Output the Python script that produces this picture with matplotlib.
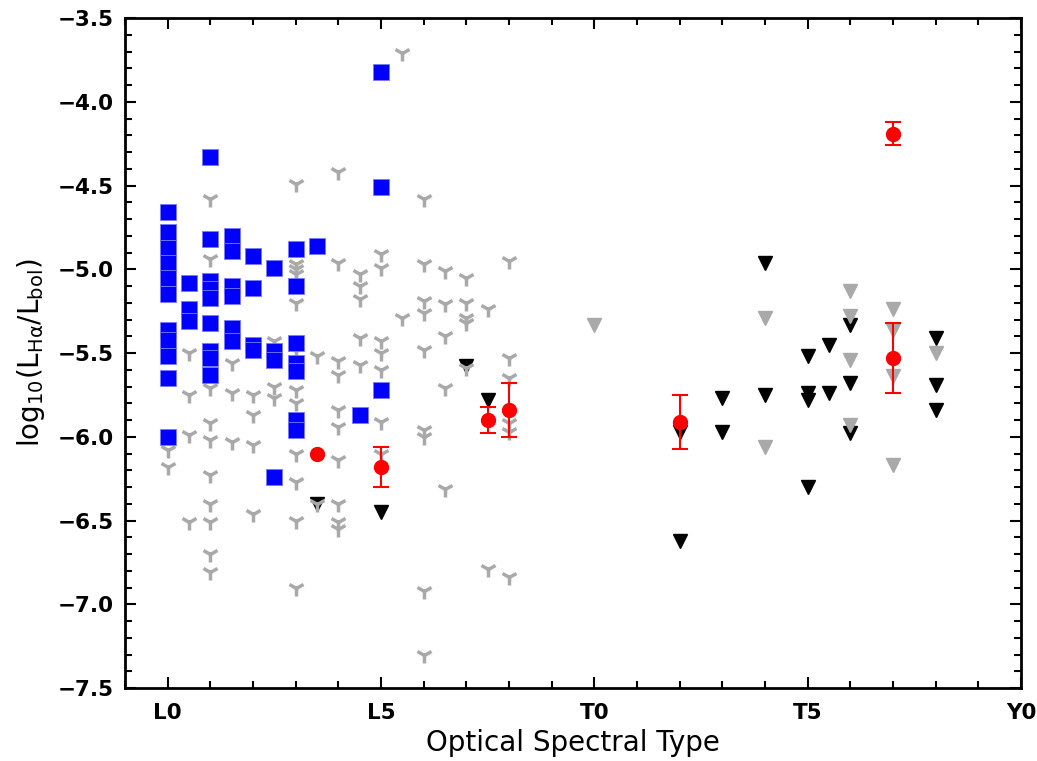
import matplotlib
matplotlib.use('Agg')
import matplotlib.pyplot as plt
from matplotlib.ticker import MultipleLocator

# spectral type as number: L0=0, L5=5, T0=10, T5=15, Y0=20

# grey upper limits (Y shaped markers)
ylim_spt = ([0] * 2 + [0.5] * 4 + [1] * 10 + [1.5] * 3 + [2] * 4 + [2.5] * 4
            + [3] * 12 + [3.5] * 2 + [4] * 10 + [4.5] * 5 + [5] * 7
            + [5.5] * 2 + [6] * 9 + [6.5] * 5 + [7] * 5 + [7.5] * 2 + [8] * 6)
ylim_val = [-6.08, -6.18,
            -5.50, -5.75, -5.99, -6.51,
            -4.58, -4.94, -5.71, -5.92, -6.02, -6.23, -6.40, -6.51, -6.70, -6.81,
            -5.56, -5.74, -6.03,
            -5.75, -5.87, -6.05, -6.46,
            -5.43, -5.70, -5.77, -6.23,
            -4.49, -4.97, -5.00, -5.03, -5.20, -5.49, -5.72, -5.80, -6.10, -6.27, -6.50, -6.90,
            -5.52, -6.40,
            -4.42, -4.96, -5.55, -5.63, -5.84, -5.94, -6.14, -6.40, -6.51, -6.55,
            -5.03, -5.10, -5.18, -5.41, -5.57,
            -4.91, -4.99, -5.43, -5.50, -5.60, -5.91, -6.10,
            -3.71, -5.29,
            -4.58, -4.97, -5.19, -5.26, -5.48, -5.96, -6.00, -6.92, -7.30,
            -5.01, -5.21, -5.40, -5.71, -6.31,
            -5.05, -5.20, -5.29, -5.32, -5.59,
            -5.24, -6.79,
            -4.95, -5.53, -5.65, -5.92, -5.97, -6.84]

# blue squares (detections)
det_spt = ([0] * 11 + [0.5] * 3 + [1] * 9 + [1.5] * 6 + [2] * 4 + [2.5] * 4
           + [3] * 7 + [3.5] + [4.5] + [5] * 3)
det_val = [-4.66, -4.78, -4.87, -4.96, -5.05, -5.15, -5.36, -5.42, -5.52, -5.65, -6.00,
           -5.08, -5.24, -5.31,
           -4.33, -4.82, -5.07, -5.12, -5.17, -5.32, -5.49, -5.53, -5.63,
           -4.80, -4.89, -5.10, -5.16, -5.35, -5.43,
           -4.92, -5.11, -5.45, -5.48,
           -4.99, -5.49, -5.54, -6.24,
           -4.88, -5.10, -5.44, -5.56, -5.61, -5.90, -5.96,
           -4.86,
           -5.87,
           -3.82, -4.51, -5.72]

# red circles with errors
red_spt = [5, 7.5, 8, 12, 17, 17]
red_val = [-6.18, -5.90, -5.84, -5.91, -5.53, -4.19]
red_err = [0.12, 0.08, 0.16, 0.16, 0.21, 0.07]
red1_spt = [3.5]
red1_val = [-6.10]

# black triangles
blk_spt = [3.5, 5, 7, 7.5, 12, 12, 13, 13, 14, 14, 15, 15, 15, 15,
           15.5, 15.5, 16, 16, 16, 18, 18, 18]
blk_val = [-6.40, -6.45, -5.58, -5.78, -5.97, -6.62, -5.77, -5.97, -4.96, -5.75,
           -5.52, -5.74, -5.78, -6.30, -5.45, -5.74, -5.33, -5.68, -5.98,
           -5.41, -5.69, -5.84]

# grey triangles
gry_spt = [10, 14, 14, 16, 16, 16, 16, 17, 17, 17, 17, 18]
gry_val = [-5.33, -5.29, -6.06, -5.13, -5.28, -5.54, -5.93, -5.24, -5.36,
           -5.64, -6.17, -5.50]

tick_pos = [0, 5, 10, 15, 20]
tick_lab = ['L0', 'L5', 'T0', 'T5', 'Y0']

fig = plt.figure(figsize=(10.37, 7.61), dpi=100)
ax = fig.add_axes([0.1205, 0.0959, 0.864, 0.8804])

ax.plot(blk_spt, blk_val, 'v', color='black', ms=10, zorder=2)
ax.plot(gry_spt, gry_val, 'v', color='darkgray', ms=10, zorder=3)
ax.plot(ylim_spt, ylim_val, '1', color='darkgray', ms=12, mew=2.5, zorder=4)
ax.plot(det_spt, det_val, 's', color='blue', mec='#7a7aff', mew=0.6, ms=11.5, zorder=5)
ax.errorbar(red_spt, red_val, yerr=red_err, fmt='o', color='red', ms=10,
            capsize=5.5, elinewidth=1.5, capthick=1.5, zorder=6)
ax.plot(red1_spt, red1_val, 'o', color='red', ms=10, zorder=6)

ax.set_xlim(-1, 20)
ax.set_ylim(-7.5, -3.5)
ax.set_xticks(tick_pos)
ax.set_xticklabels(tick_lab)
ax.xaxis.set_minor_locator(MultipleLocator(1))
ax.yaxis.set_major_locator(MultipleLocator(0.5))
ax.yaxis.set_minor_locator(MultipleLocator(0.1))

ax.tick_params(which='both', direction='in', top=True, right=True, width=1.5)
ax.tick_params(which='major', length=8)
ax.tick_params(which='minor', length=5)
ax.tick_params(axis='x', which='major', pad=11, labelsize=15.5)
ax.tick_params(axis='y', which='major', pad=8, labelsize=15.5)
for lab in ax.get_xticklabels() + ax.get_yticklabels():
    lab.set_fontweight('bold')
for sp in ax.spines.values():
    sp.set_linewidth(2)

ax.set_xlabel('Optical Spectral Type', fontsize=20, labelpad=4)
ax.set_ylabel(r'log$_{10}$(L$_{\mathrm{H\alpha}}$/L$_{\mathrm{bol}}$)', fontsize=20, labelpad=8)

plt.savefig('out.png', dpi=100)
